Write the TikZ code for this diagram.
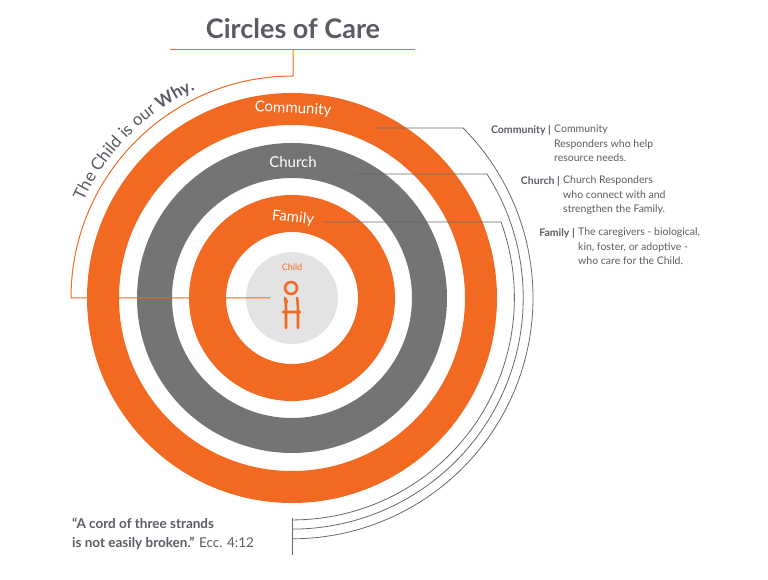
\documentclass[tikz,border=0pt]{standalone}
\usepackage{fontspec}
\setmainfont{Lato}
\usetikzlibrary{decorations.text, calc}
\definecolor{careorange}{HTML}{F26A22}
\definecolor{caregray}{HTML}{747474}
\definecolor{carelight}{HTML}{E3E3E3}
\definecolor{caretext}{HTML}{5A5B63}
\tikzset{
  ring/.style={draw=#1},
  leader/.style={draw=caregray!90!black, line width=0.8pt},
  ringlabel/.style={text=white, font=\fontsize{15}{15}\selectfont},
  desc/.style={text=caretext, font=\fontsize{10.5}{14.5}\selectfont, align=left, inner sep=0pt, anchor=north west},
  tag/.style={text=caretext, font=\fontsize{10.5}{14.5}\selectfont\bfseries, inner sep=0pt, anchor=north east}
}
\begin{document}
\begin{tikzpicture}[x=1pt,y=1pt]
\useasboundingbox (0,0) rectangle (768,580);
%%
\coordinate (ctr) at (292,282);
\draw [ring=careorange, line width=32pt] (ctr) circle (189);
\draw [ring=caregray, line width=35pt] (ctr) circle (137.5);
\draw [ring=careorange, line width=37pt] (ctr) circle (84.5);
\fill [carelight] (ctr) circle (46);
%
\node (title) at (293,551) [text=caretext, font=\fontsize{27}{27}\selectfont\bfseries] {Circles of Care};
\node (comm) at (293,471) [ringlabel, rotate=-3] {Community};
\node (church) at (293,418) [ringlabel] {Church};
\node (fam) at (293,362) [ringlabel, rotate=-6] {Family};
\node (child) at (292,313) [text=careorange, font=\fontsize{9}{9}\selectfont] {Child};
% child figure
\draw [careorange, line width=2.6pt, line cap=round] (291,292) circle (6);
\draw [careorange, line width=2.6pt, line cap=round]
  (285,282) .. controls (286,276) .. (286,264) (297,282) .. controls (298,276) .. (298,252)
  (286,264) -- (286,252) (283,268) -- (300,268) (285,282) -- (287,278);
% orange leader
\coordinate (ul) at (170,530);
\coordinate (ur) at (415,530);
\coordinate (tick) at (293,530);
\coordinate (cl) at (270,282);
\draw [careorange, line width=1pt] (ul) -- (ur);
\draw [careorange, line width=1pt] (tick) -- (293,504) arc[start angle=90, end angle=180, radius=222] -- (cl);
\path [decorate, decoration={text along path, text align=center,
  text={|\color{caretext}\fontsize{17}{17}\selectfont|The Child is our |+\bfseries|Why.}}]
  ($(ctr)+(166:230)$) arc[start angle=166, end angle=104, radius=230];
% gray leaders
\coordinate (lc) at (375,452);
\coordinate (lh) at (355,406);
\coordinate (lf) at (325,358);
\coordinate (foot) at (292,62);
\coordinate (footend) at (292,25);
\draw [leader] (lc) -- (463,452) arc[start angle=44.8, end angle=-90, radius=241];
\draw [leader] (lh) -- (487,406) arc[start angle=32.5, end angle=-90, radius=231];
\draw [leader] (lf) -- (501,358) arc[start angle=20, end angle=-90, radius=222];
\draw [leader] (foot) -- (footend);
% descriptions
\node (tagc) at (551,455) [tag] {Community |};
\node (descc) at (554,455) [desc] {Community\\ Responders who help\\ resource needs.};
\node (tagh) at (560,404) [tag] {Church |};
\node (desch) at (563,404) [desc] {Church Responders\\ who connect with and\\ strengthen the Family.};
\node (tagf) at (575,352) [tag] {Family |};
\node (descf) at (578,352) [desc] {The caregivers - biological,\\ kin, foster, or adoptive -\\ who care for the Child.};
\node (quote) at (72,62) [anchor=north west, text=caretext, align=left, inner sep=0pt,
  font=\fontsize{13.5}{19}\selectfont] {\textbf{“A cord of three strands}\\ \textbf{is not easily broken.”} Ecc. 4:12};
%
\end{tikzpicture}
\end{document}
